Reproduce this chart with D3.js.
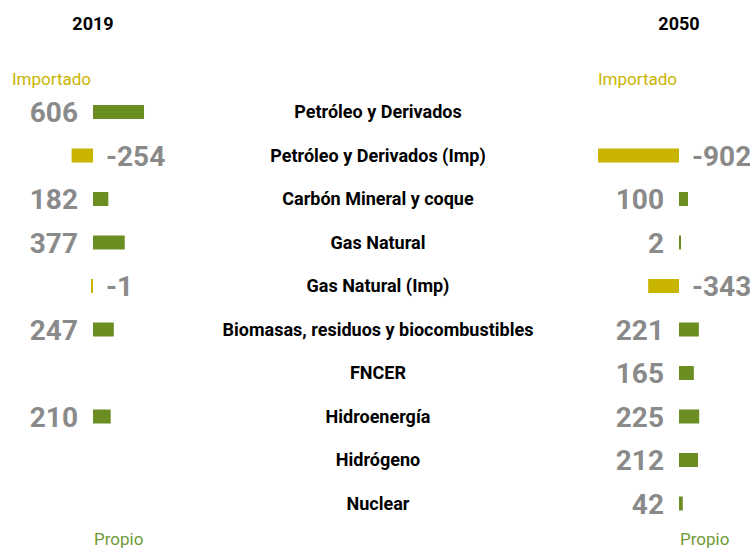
<!DOCTYPE html>
<html>
<head>
<meta charset="utf-8">
<script src="https://cdn.jsdelivr.net/npm/d3@7"></script>
<style>
  html, body { margin: 0; padding: 0; background: #ffffff; }
  svg { display: block; }
</style>
</head>
<body>
<svg id="chart" width="750" height="550"></svg>
<script>
// Energy supply by source: own production (positive) vs imports (negative)
const categories = [
  "Petróleo y Derivados",
  "Petróleo y Derivados (Imp)",
  "Carbón Mineral y coque",
  "Gas Natural",
  "Gas Natural (Imp)",
  "Biomasas, residuos y biocombustibles",
  "FNCER",
  "Hidroenergía",
  "Hidrógeno",
  "Nuclear"
];
const years = ["2019", "2050"];
const values2019 = [606, -254, 182, 377, -1, 247, null, 210, null, null];
const values2050 = [null, -902, 100, 2, -343, 221, 165, 225, 212, 42];
const importLabel = "Importado";
const ownLabel = "Propio";

const GREEN = "#6b8e23";
const YELLOW = "#c9b400";
const GREY = "#8a8a8a";
const FONT = "Roboto, 'Open Sans', sans-serif";

const svg = d3.select("#chart");

const y = d3.scalePoint().domain(categories).range([112, 503.5]);
const barH = 14;

const panels = [
  { year: years[0], values: values2019,
    x: d3.scaleLinear().domain([-1000, 1000]).range([93 - 84.2, 93 + 84.2]) },
  { year: years[1], values: values2050,
    x: d3.scaleLinear().domain([-1000, 1000]).range([679 - 89.8, 679 + 89.8]) }
];

// category names in the middle column
svg.append("g")
  .selectAll("text")
  .data(categories)
  .join("text")
  .attr("x", 378)
  .attr("y", d => y(d))
  .attr("dy", "0.36em")
  .attr("text-anchor", "middle")
  .attr("font-family", FONT)
  .attr("font-weight", 700)
  .attr("font-size", 18)
  .attr("fill", "#000")
  .text(d => d);

panels.forEach(p => {
  const x = p.x;
  const x0 = x(0);
  const g = svg.append("g");

  g.append("text")
    .attr("x", x0)
    .attr("y", 30)
    .attr("text-anchor", "middle")
    .attr("font-family", FONT)
    .attr("font-weight", 700)
    .attr("font-size", 18)
    .attr("fill", "#000")
    .text(p.year);

  g.append("text")
    .attr("x", x0 - 2)
    .attr("y", 85)
    .attr("text-anchor", "end")
    .attr("font-family", FONT)
    .attr("font-size", 17)
    .attr("fill", YELLOW)
    .text(importLabel);

  g.append("text")
    .attr("x", x0 + 1)
    .attr("y", 545)
    .attr("text-anchor", "start")
    .attr("font-family", FONT)
    .attr("font-size", 17)
    .attr("fill", "#6f9a35")
    .text(ownLabel);

  const rows = categories
    .map((c, i) => ({ c, v: p.values[i] }))
    .filter(d => d.v !== null);

  g.selectAll("rect")
    .data(rows)
    .join("rect")
    .attr("x", d => {
      const w = Math.max(2, Math.abs(x(d.v) - x0));
      return d.v < 0 ? x0 - w : x0;
    })
    .attr("y", d => y(d.c) - barH / 2)
    .attr("width", d => Math.max(2, Math.abs(x(d.v) - x0)))
    .attr("height", barH)
    .attr("fill", d => d.v < 0 ? YELLOW : GREEN);

  g.selectAll("text.val")
    .data(rows)
    .join("text")
    .attr("class", "val")
    .attr("x", d => d.v < 0 ? x0 + 13 : x0 - 15)
    .attr("y", d => y(d.c))
    .attr("dy", "0.36em")
    .attr("text-anchor", d => d.v < 0 ? "start" : "end")
    .attr("font-family", FONT)
    .attr("font-weight", 700)
    .attr("font-size", 28)
    .attr("fill", GREY)
    .text(d => String(d.v));
});
</script>
</body>
</html>
